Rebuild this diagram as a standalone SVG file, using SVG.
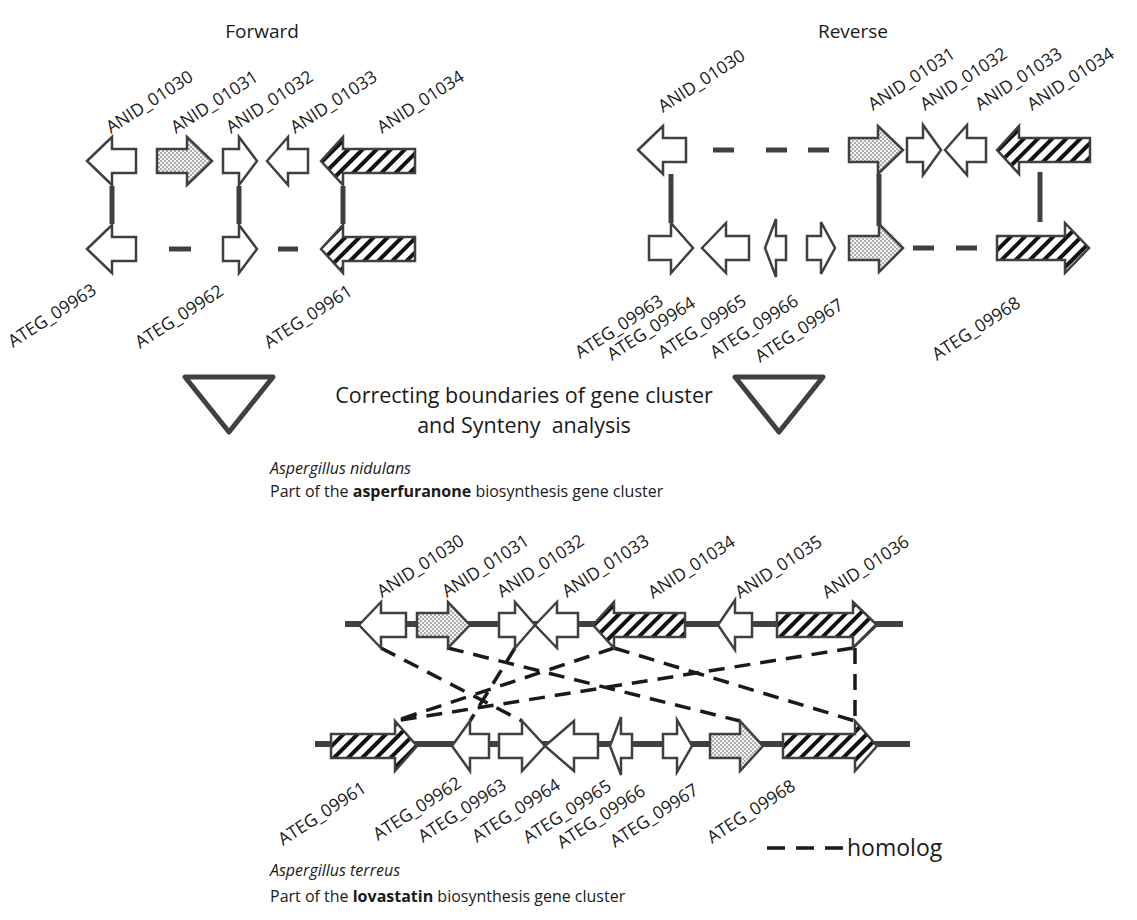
<svg xmlns="http://www.w3.org/2000/svg" width="1137" height="920" viewBox="0 0 1137 920">
<style>
.g{fill:#fff;stroke:#404040;stroke-width:2.5;stroke-linejoin:miter}
.h{fill:url(#hatch)}
.s{fill:url(#stip)}
.lbl{font-family:"Open Sans",sans-serif;font-size:17.5px;fill:#1a1a1a}
.t{font-family:"Open Sans",sans-serif;fill:#1a1a1a}
.link{stroke:#404040;stroke-width:5;fill:none}
.axis{stroke:#404040;stroke-width:6;fill:none}
.hom{stroke:#1a1a1a;stroke-width:3.5;stroke-dasharray:16 10;fill:none}
.tri{fill:none;stroke:#404040;stroke-width:5;stroke-linejoin:round}
</style>
<defs>
<pattern id="hatch" patternUnits="userSpaceOnUse" width="10" height="10" patternTransform="rotate(45)"><rect width="10" height="10" fill="#fff"/><rect width="4" height="10" fill="#111"/></pattern>
<pattern id="stip" patternUnits="userSpaceOnUse" width="4" height="4"><rect width="4" height="4" fill="#f4f4f4"/><circle cx="1" cy="1" r="0.8" fill="#555"/><circle cx="3" cy="3" r="0.8" fill="#555"/></pattern>
</defs>
<rect width="1137" height="920" fill="#fff"/>

<text class="t" x="262" y="38" font-size="19" text-anchor="middle">Forward</text>
<text class="t" x="853" y="38" font-size="19" text-anchor="middle">Reverse</text>

<g id="connectors">
<line class="link" x1="112" y1="186" x2="112" y2="224"/>
<line class="link" x1="239" y1="186" x2="239" y2="224"/>
<line class="link" x1="343" y1="186" x2="343" y2="224"/>
<line class="link" x1="169" y1="249" x2="191" y2="249"/>
<line class="link" x1="278" y1="249" x2="298" y2="249"/>
<line class="link" x1="671" y1="174" x2="671" y2="223"/>
<line class="link" x1="879" y1="174" x2="879" y2="226"/>
<line class="link" x1="1040" y1="172" x2="1040" y2="222"/>
<line class="link" x1="713" y1="150" x2="734" y2="150"/>
<line class="link" x1="766" y1="150" x2="787" y2="150"/>
<line class="link" x1="808" y1="150" x2="829" y2="150"/>
<line class="link" x1="913" y1="248" x2="934" y2="248"/>
<line class="link" x1="956" y1="248" x2="977" y2="248"/>
<line class="axis" x1="345" y1="624" x2="903" y2="624"/>
<line class="axis" x1="315" y1="744" x2="910" y2="744"/>
<line class="hom" x1="381" y1="648" x2="522" y2="721"/>
<line class="hom" x1="448" y1="648" x2="740" y2="721"/>
<line class="hom" x1="515" y1="648" x2="470" y2="721"/>
<line class="hom" x1="614" y1="648" x2="395" y2="721"/>
<line class="hom" x1="614" y1="648" x2="855" y2="721"/>
<line class="hom" x1="853" y1="648" x2="395" y2="721"/>
<line class="hom" x1="855" y1="648" x2="855" y2="721"/>
</g>

<g id="f_anid_01030"><polygon class="g" points="87,161 112,137 112,149 136,149 136,173 112,173 112,185"/><text class="lbl" transform="translate(111,134) rotate(-33)">ANID_01030</text></g>
<g id="f_anid_01031"><polygon class="g s" points="157,149 187,149 187,137 212,161 187,185 187,173 157,173"/><text class="lbl" transform="translate(176,134) rotate(-33)">ANID_01031</text></g>
<g id="f_anid_01032"><polygon class="g" points="223,149 239,149 239,137 257,161 239,185 239,173 223,173"/><text class="lbl" transform="translate(231,134) rotate(-33)">ANID_01032</text></g>
<g id="f_anid_01033"><polygon class="g" points="267,161 288,137 288,149 308,149 308,173 288,173 288,185"/><text class="lbl" transform="translate(295,134) rotate(-33)">ANID_01033</text></g>
<g id="f_anid_01034"><polygon class="g h" points="321,161 343,137 343,149 415,149 415,173 343,173 343,185"/><text class="lbl" transform="translate(382,134) rotate(-33)">ANID_01034</text></g>
<g id="f_ateg_09963"><polygon class="g" points="87,249 112,225 112,237 136,237 136,261 112,261 112,273"/><text class="lbl" transform="translate(13,348) rotate(-33)">ATEG_09963</text></g>
<g id="f_ateg_09962"><polygon class="g" points="223,237 239,237 239,225 257,249 239,273 239,261 223,261"/><text class="lbl" transform="translate(140,349) rotate(-33)">ATEG_09962</text></g>
<g id="f_ateg_09961"><polygon class="g h" points="321,249 343,225 343,237 415,237 415,261 343,261 343,273"/><text class="lbl" transform="translate(269,349) rotate(-33)">ATEG_09961</text></g>

<g id="r_anid_01030"><polygon class="g" points="638,150 663,126 663,138 686,138 686,162 663,162 663,174"/><text class="lbl" transform="translate(663,113) rotate(-33)">ANID_01030</text></g>
<g id="r_anid_01031"><polygon class="g s" points="849,138 878,138 878,126 903,150 878,174 878,162 849,162"/><text class="lbl" transform="translate(873,111) rotate(-33)">ANID_01031</text></g>
<g id="r_anid_01032"><polygon class="g" points="907,138 923,138 923,125 941,150 923,175 923,162 907,162"/><text class="lbl" transform="translate(925,111) rotate(-33)">ANID_01032</text></g>
<g id="r_anid_01033"><polygon class="g" points="945,150 967,125 967,138 986,138 986,162 967,162 967,175"/><text class="lbl" transform="translate(980,111) rotate(-33)">ANID_01033</text></g>
<g id="r_anid_01034"><polygon class="g h" points="997,150 1019,126 1019,138 1090,138 1090,162 1019,162 1019,174"/><text class="lbl" transform="translate(1032,111) rotate(-33)">ANID_01034</text></g>
<g id="r_ateg_09963"><polygon class="g" points="649,236 671,236 671,223 693,248 671,273 671,260 649,260"/><text class="lbl" transform="translate(580,359) rotate(-33)">ATEG_09963</text></g>
<g id="r_ateg_09964"><polygon class="g" points="702,248 726,223 726,236 749,236 749,260 726,260 726,273"/><text class="lbl" transform="translate(612,361) rotate(-33)">ATEG_09964</text></g>
<g id="r_ateg_09965"><polygon class="g" points="765,248 776,219 776,236 786,236 786,260 776,260 776,277"/><text class="lbl" transform="translate(663,359) rotate(-33)">ATEG_09965</text></g>
<g id="r_ateg_09966"><polygon class="g" points="807,236 821,236 821,222 835,248 821,274 821,260 807,260"/><text class="lbl" transform="translate(715,359) rotate(-33)">ATEG_09966</text></g>
<g id="r_ateg_09967"><polygon class="g s" points="849,236 879,236 879,224 903,248 879,272 879,260 849,260"/><text class="lbl" transform="translate(760,363) rotate(-33)">ATEG_09967</text></g>
<g id="r_ateg_09968"><polygon class="g h" points="997,236 1065,236 1065,223 1089,248 1065,273 1065,260 997,260"/><text class="lbl" transform="translate(937,361) rotate(-33)">ATEG_09968</text></g>

<polygon class="tri" points="185,377 273,377 229,432"/>
<polygon class="tri" points="735,377 823,377 779,432"/>
<text class="t" font-size="21.5" text-anchor="middle" x="524" y="403">Correcting boundaries of gene cluster</text>
<text class="t" font-size="21.5" text-anchor="middle" x="524" y="433" xml:space="preserve">and Synteny  analysis</text>
<text class="t" font-size="16" x="270" y="474" font-style="italic">Aspergillus nidulans</text>
<text class="t" font-size="16" x="270" y="497">Part of the <tspan font-weight="bold">asperfuranone</tspan> biosynthesis gene cluster</text>

<g id="b_anid_01030"><polygon class="g" points="359,625 381,602 381,613 406,613 406,637 381,637 381,648"/><text class="lbl" transform="translate(382,598) rotate(-33)">ANID_01030</text></g>
<g id="b_anid_01031"><polygon class="g s" points="417,613 448,613 448,602 470,625 448,648 448,637 417,637"/><text class="lbl" transform="translate(447,598) rotate(-33)">ANID_01031</text></g>
<g id="b_anid_01032"><polygon class="g" points="499,613 515,613 515,602 535,625 515,648 515,637 499,637"/><text class="lbl" transform="translate(502,598) rotate(-33)">ANID_01032</text></g>
<g id="b_anid_01033"><polygon class="g" points="535,625 557,602 557,613 578,613 578,637 557,637 557,648"/><text class="lbl" transform="translate(567,598) rotate(-33)">ANID_01033</text></g>
<g id="b_anid_01034"><polygon class="g h" points="593,625 614,602 614,613 685,613 685,637 614,637 614,648"/><text class="lbl" transform="translate(653,599) rotate(-33)">ANID_01034</text></g>
<g id="b_anid_01035"><polygon class="g" points="718,625 735,600 735,613 752,613 752,637 735,637 735,650"/><text class="lbl" transform="translate(740,599) rotate(-33)">ANID_01035</text></g>
<g id="b_anid_01036"><polygon class="g h" points="777,613 853,613 853,602 877,625 853,648 853,637 777,637"/><text class="lbl" transform="translate(827,599) rotate(-33)">ANID_01036</text></g>

<g id="b_ateg_09961"><polygon class="g h" points="331,734 395,734 395,721 417,746 395,771 395,758 331,758"/><text class="lbl" transform="translate(283,846) rotate(-33)">ATEG_09961</text></g>
<g id="b_ateg_09962"><polygon class="g" points="452,746 470,721 470,734 489,734 489,758 470,758 470,771"/><text class="lbl" transform="translate(378,841) rotate(-33)">ATEG_09962</text></g>
<g id="b_ateg_09963"><polygon class="g" points="499,734 522,734 522,721 545,746 522,771 522,758 499,758"/><text class="lbl" transform="translate(423,843) rotate(-33)">ATEG_09963</text></g>
<g id="b_ateg_09964"><polygon class="g" points="545,746 574,721 574,734 598,734 598,758 574,758 574,771"/><text class="lbl" transform="translate(477,843) rotate(-33)">ATEG_09964</text></g>
<g id="b_ateg_09965"><polygon class="g" points="610,746 621,717 621,734 632,734 632,758 621,758 621,775"/><text class="lbl" transform="translate(528,844) rotate(-33)">ATEG_09965</text></g>
<g id="b_ateg_09966"><polygon class="g" points="663,734 677,734 677,720 692,746 677,772 677,758 663,758"/><text class="lbl" transform="translate(562,849) rotate(-33)">ATEG_09966</text></g>
<g id="b_ateg_09967"><polygon class="g s" points="710,734 740,734 740,721 763,746 740,771 740,758 710,758"/><text class="lbl" transform="translate(615,848) rotate(-33)">ATEG_09967</text></g>
<g id="b_ateg_09968"><polygon class="g h" points="783,734 855,734 855,721 877,746 855,771 855,758 783,758"/><text class="lbl" transform="translate(712,844) rotate(-33)">ATEG_09968</text></g>

<g id="legend">
<line class="hom" x1="767" y1="848" x2="843" y2="848" style="stroke-dasharray:18 11"/>
<text class="t" font-size="23" x="847" y="856">homolog</text>
</g>
<text class="t" font-size="16" x="270" y="876" font-style="italic">Aspergillus terreus</text>
<text class="t" font-size="16" x="270" y="902">Part of the <tspan font-weight="bold">lovastatin</tspan> biosynthesis gene cluster</text>
</svg>
